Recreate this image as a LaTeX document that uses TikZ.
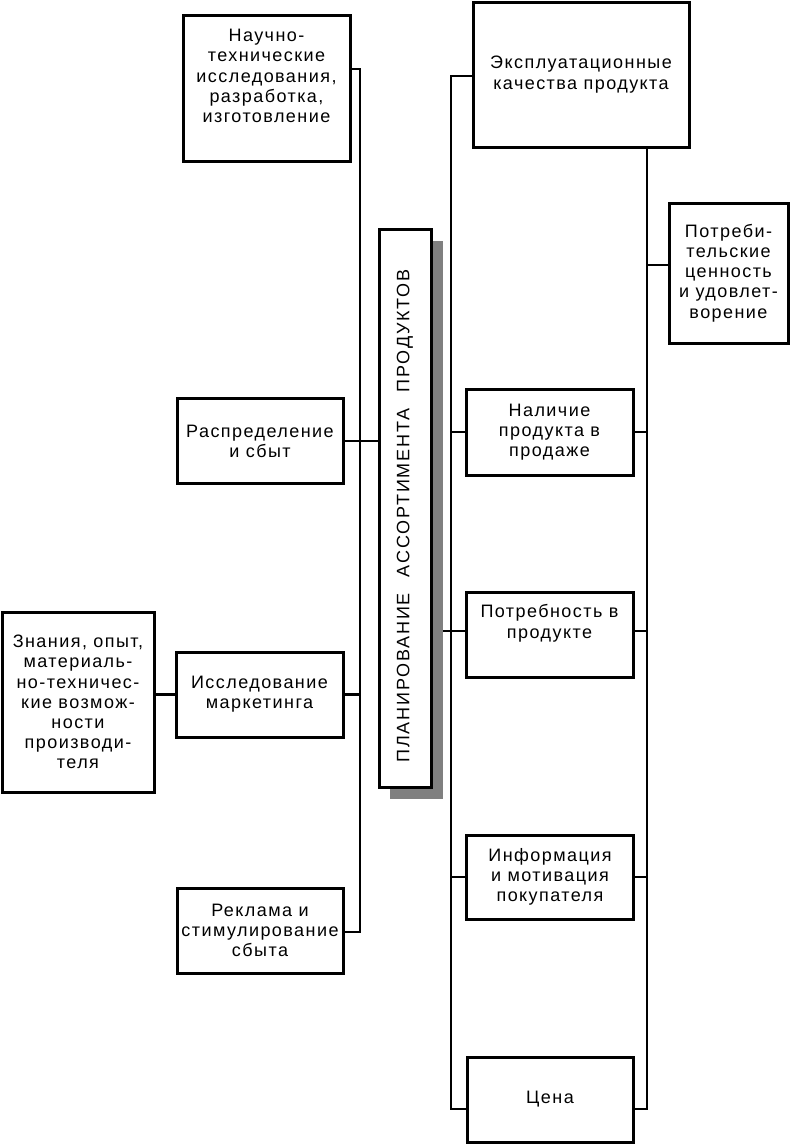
\documentclass[tikz,border=0pt]{standalone}
\usepackage{fontspec}
\setmainfont{Liberation Sans}[LetterSpace=8]
\newfontfamily\widefont{Liberation Sans}[LetterSpace=10]
\begin{document}
\begin{tikzpicture}[x=1pt,y=-1pt,
  bx/.style={draw,line width=3pt,align=center,inner sep=0pt,font=\fontsize{18}{20.2}\selectfont},
  ln/.style={line width=2.7pt},
  shade/.style={fill=black!50,draw=none}]
\useasboundingbox (0,0) rectangle (790,1144);
% left side boxes
\node[bx,minimum width=167pt,minimum height=146pt] (n1) at (266.5,88) {Научно-\\технические\\исследования,\\разработка,\\изготовление\\[4pt]};
\node[bx,minimum width=166pt,minimum height=85pt] (n2) at (260,441) {Распределение\\и сбыт};
\node[bx,minimum width=167pt,minimum height=85pt] (n3) at (259.5,694.5) {Исследование\\маркетинга};
\node[bx,minimum width=166pt,minimum height=85pt] (n4) at (260,930.5) {Реклама и\\стимулирование\\сбыта};
\node[bx,minimum width=152pt,minimum height=180pt] (n5) at (78,702) {Знания, опыт,\\материаль-\\но-техничес-\\кие возмож-\\ности\\производи-\\теля};
% right side boxes
\node[bx,minimum width=216pt,minimum height=145pt] (r1) at (581,74.5) {Эксплуатационные\\качества продукта};
\node[bx,minimum width=119pt,minimum height=140pt] (r2) at (728.5,273) {Потреби-\\тельские\\ценность\\и удовлет-\\ворение};
\node[bx,minimum width=167pt,minimum height=86pt] (r3) at (549.5,432) {Наличие\\продукта в\\продаже};
\node[bx,minimum width=167pt,minimum height=85pt] (r4) at (549.5,634.5) {Потребность в\\продукте\\[6pt]};
\node[bx,minimum width=167pt,minimum height=84pt] (r5) at (550,877) {Информация\\и мотивация\\покупателя};
\node[bx,minimum width=166pt,minimum height=85pt] (r6) at (550,1099.5) {Цена};
% trunk coordinates
\coordinate (lt) at (360,69);
\coordinate (lb) at (360,932);
\coordinate (rt) at (451,76);
\coordinate (rb) at (451,1109);
\coordinate (ft) at (647,147);
\coordinate (fb) at (647,1109);
% central box connector (drawn before shadow)
\coordinate (cc) at (405,508);
\draw[ln] (431,631) -- (r4.west |- 0,631);
% central box
\fill[shade] (390,241) rectangle (443,799);
\node[bx,fill=white,minimum width=52pt,minimum height=558pt] (c) at (cc) {};
\node[rotate=90,font=\fontsize{18}{20}\widefont] (ct) at ([yshift=-8pt]c.center) {ПЛАНИРОВАНИЕ\hspace{16pt}АССОРТИМЕНТА\hspace{16pt}ПРОДУКТОВ};
% left trunk
\draw[ln] (n1.east |- lt) -- (lt) -- (lb) -- (n4.east |- lb);
\draw[ln] (n2.east) -- (c.west |- n2.east);
\draw[ln] (n3.east) -- (n3.east -| lt);
\draw[ln] (n5.east |- n3.west) -- (n3.west);
% right trunk
\draw[ln] (r1.west |- rt) -- (rt) -- (rb) -- (r6.west |- rb);
\draw[ln] (ft) -- (fb) -- (r6.east |- fb);
\draw[ln] (r2.west |- 0,265) -- (ft |- 0,265);
\draw[ln] (r3.west) -- (r3.west -| rt);
\draw[ln] (r3.east) -- (r3.east -| ft);
\draw[ln] (r4.east |- 0,631) -- (ft |- 0,631);
\draw[ln] (r5.west) -- (r5.west -| rt);
\draw[ln] (r5.east) -- (r5.east -| ft);
\end{tikzpicture}
\end{document}
